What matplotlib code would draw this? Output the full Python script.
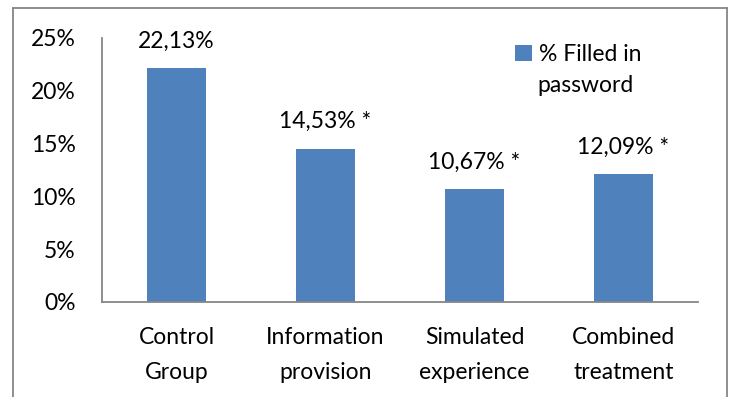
import matplotlib
matplotlib.use("Agg")
import matplotlib.pyplot as plt
from matplotlib.lines import Line2D
from matplotlib.ticker import FuncFormatter

categories = ["Control\nGroup", "Information\nprovision", "Simulated\nexperience", "Combined\ntreatment"]
values = [22.13, 14.53, 10.67, 12.09]
labels = ["22,13%", "14,53% *", "10,67% *", "12,09% *"]
yticks = [0, 5, 10, 15, 20, 25]
legend_lines = ["% Filled in", "password"]

plt.rcParams['font.family'] = ['Lato', 'DejaVu Sans']
fs = 16.5
bar_color = '#4F81BD'
axis_gray = '#868686'

fig = plt.figure(figsize=(7.32, 3.97), dpi=100)
ax = fig.add_axes([102 / 732, 1 - 302 / 397, 596 / 732, 264 / 397])

x = range(len(categories))
bars = ax.bar(x, values, width=0.4, color=bar_color, label=legend_lines[0])

for b, txt in zip(bars, labels):
    ax.annotate(txt, (b.get_x() + b.get_width() / 2, b.get_height()),
                xytext=(0, 12), textcoords='offset points',
                ha='center', va='bottom', fontsize=fs)

ax.set_xlim(-0.5, len(categories) - 0.5)
ax.set_ylim(0, 25)
ax.set_yticks(yticks)
ax.yaxis.set_major_formatter(FuncFormatter(lambda v, p: f"{v:.0f}%"))
ax.set_xticks(list(x))
ax.set_xticklabels(categories, fontsize=fs, linespacing=1.85)
ax.tick_params(axis='y', length=0, pad=19, labelsize=fs)
ax.tick_params(axis='x', length=0, pad=18)

for s in ['top', 'right']:
    ax.spines[s].set_visible(False)
for s in ['left', 'bottom']:
    ax.spines[s].set_color(axis_gray)
    ax.spines[s].set_linewidth(1.3)

# legend: square on the first line, label wraps onto a second line
leg = ax.legend(loc='upper left', bbox_to_anchor=(515 / 732, 1 - 44 / 397),
                bbox_transform=fig.transFigure, frameon=False, fontsize=fs,
                handlelength=0.75, handleheight=0.75, handletextpad=0.3,
                borderpad=0, borderaxespad=0)
fig.text(537 / 732, 1 - 92 / 397, legend_lines[1], fontsize=fs,
         ha='left', va='baseline')

# outer chart frame
frame_kw = dict(color=axis_gray, linewidth=1.3, transform=fig.transFigure)
fig.add_artist(Line2D([13 / 732, 13 / 732], [1 - 8 / 397, 0], **frame_kw))
fig.add_artist(Line2D([13 / 732, 727 / 732], [1 - 8 / 397, 1 - 8 / 397], **frame_kw))
fig.add_artist(Line2D([727 / 732, 727 / 732], [1 - 8 / 397, 0], **frame_kw))

fig.savefig("out.png", dpi=100)
